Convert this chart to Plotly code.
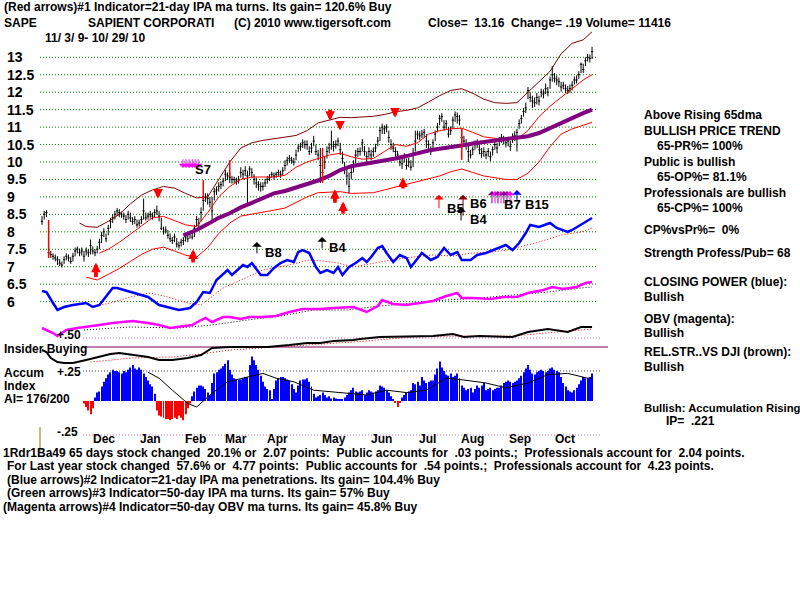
import plotly.graph_objects as go

W, H = 800, 600

# ---------------- daily bars: trading-day index 0 = 11/3/09 ... 249 = 10/29/10
closes = [
    8.30, 8.50, 8.55, 7.40, 7.35, 7.30, 7.25, 7.20, 7.10, 7.05,
    7.20, 7.30, 7.25, 7.15, 7.30, 7.45, 7.50, 7.40, 7.45, 7.30,
    7.45, 7.40, 7.60, 7.45, 7.40, 7.50, 7.70, 7.90, 8.00, 7.80,
    8.10, 8.30, 8.40, 8.50, 8.60, 8.55, 8.50, 8.45, 8.35, 8.50,
    8.40, 8.30, 8.35, 8.20, 8.25, 8.35, 8.60, 8.40, 8.45, 8.50,
    8.45, 8.55, 8.60, 8.45, 8.10, 8.00, 8.05, 7.90, 7.80, 7.75,
    7.85, 7.65, 7.60, 7.70, 7.75, 7.85, 7.80, 7.95, 7.85, 8.10,
    8.35, 8.25, 8.55, 8.90, 9.00, 8.95, 8.85, 8.60, 9.15, 9.20,
    9.30, 9.35, 9.45, 9.65, 9.60, 9.55, 9.50, 9.50, 9.45, 9.50,
    9.70, 9.65, 9.75, 9.60, 9.80, 9.70, 9.50, 9.40, 9.35, 9.30,
    9.30, 9.40, 9.50, 9.55, 9.65, 9.60, 9.65, 9.70, 9.65, 9.75,
    9.90, 10.05, 10.10, 10.05, 10.00, 10.20, 10.40, 10.45, 10.55, 10.50,
    10.50, 10.30, 10.40, 10.60, 10.30, 10.20, 9.90, 9.70, 10.00, 10.30,
    10.40, 10.50, 10.45, 10.50, 10.60, 10.35, 10.10, 9.80, 9.60, 9.30,
    9.70, 9.90, 10.20, 10.30, 10.30, 10.55, 10.30, 10.15, 10.30, 10.20,
    10.30, 10.40, 10.60, 10.90, 11.00, 10.95, 11.00, 10.70, 10.50, 10.40,
    10.30, 10.20, 10.00, 9.95, 10.15, 9.90, 10.00, 9.85, 10.20, 10.60,
    10.80, 10.75, 10.80, 10.85, 10.60, 10.50, 10.30, 10.55, 10.80, 11.00,
    11.25, 11.30, 11.00, 11.10, 10.80, 10.90, 11.20, 11.35, 11.30, 11.20,
    10.70, 10.60, 10.50, 10.30, 10.20, 10.35, 10.50, 10.55, 10.35, 10.25,
    10.30, 10.20, 10.30, 10.15, 10.35, 10.50, 10.40, 10.60, 10.70, 10.65,
    10.55, 10.60, 10.45, 10.70, 10.75, 10.85, 11.10, 11.25, 11.45, 11.55,
    12.05, 11.85, 11.75, 11.70, 11.85, 11.75, 12.00, 11.95, 12.10, 12.00,
    12.35, 12.50, 12.40, 12.35, 12.30, 12.15, 12.20, 12.10, 12.05, 12.10,
    12.20, 12.35, 12.35, 12.50, 12.80, 12.65, 12.90, 13.00, 12.97, 13.16,
]
highs = [
    8.45, 8.60, 8.62, 7.55, 7.45, 7.38, 7.35, 7.30, 7.22, 7.15,
    7.30, 7.38, 7.35, 7.28, 7.40, 7.55, 7.58, 7.52, 7.55, 7.45,
    7.55, 7.50, 7.78, 7.58, 7.50, 7.60, 7.80, 8.00, 8.10, 7.95,
    8.20, 8.40, 8.50, 8.60, 8.68, 8.65, 8.58, 8.55, 8.48, 8.60,
    8.55, 8.42, 8.45, 8.35, 8.35, 8.45, 8.95, 8.55, 8.55, 8.60,
    8.55, 8.65, 8.75, 8.60, 8.40, 8.15, 8.15, 8.05, 7.95, 7.85,
    7.95, 7.82, 7.72, 7.80, 7.85, 7.95, 7.92, 8.00, 7.98, 8.20,
    8.45, 8.40, 8.70, 9.00, 9.10, 9.10, 9.00, 9.00, 9.25, 9.30,
    9.42, 9.45, 9.55, 9.78, 9.70, 9.70, 9.60, 9.58, 9.55, 9.60,
    9.85, 9.78, 9.88, 9.75, 9.88, 9.82, 9.65, 9.55, 9.45, 9.42,
    9.42, 9.52, 9.60, 9.65, 9.72, 9.70, 9.72, 9.78, 9.75, 9.85,
    10.05, 10.15, 10.20, 10.15, 10.12, 10.35, 10.52, 10.55, 10.65, 10.62,
    10.62, 10.45, 10.55, 10.75, 10.50, 10.35, 10.40, 9.95, 10.15, 10.45,
    10.55, 10.90, 10.60, 10.62, 10.70, 10.55, 10.30, 10.00, 9.80, 9.70,
    9.85, 10.05, 10.35, 10.40, 10.42, 10.65, 10.45, 10.30, 10.42, 10.35,
    10.42, 10.52, 10.72, 11.00, 11.10, 11.05, 11.08, 10.90, 10.65, 10.55,
    10.42, 10.32, 10.15, 10.10, 10.25, 10.10, 10.12, 10.05, 10.40, 10.90,
    10.90, 10.88, 10.92, 10.95, 10.80, 10.62, 10.45, 10.65, 10.90, 11.12,
    11.35, 11.40, 11.20, 11.20, 11.00, 11.02, 11.30, 11.45, 11.42, 11.35,
    10.95, 10.75, 10.65, 10.55, 10.35, 10.45, 10.62, 10.65, 10.50, 10.40,
    10.42, 10.32, 10.40, 10.30, 10.45, 10.60, 10.55, 10.72, 10.80, 10.75,
    10.68, 10.72, 10.60, 10.82, 10.88, 10.95, 11.22, 11.35, 11.55, 11.70,
    12.15, 12.00, 11.90, 11.85, 11.98, 11.90, 12.10, 12.08, 12.25, 12.15,
    12.45, 12.75, 12.55, 12.48, 12.42, 12.30, 12.30, 12.22, 12.18, 12.22,
    12.32, 12.45, 12.48, 12.60, 12.85, 12.82, 13.00, 13.10, 13.08, 13.30,
]
lows = [
    8.20, 8.35, 8.42, 7.30, 7.25, 7.20, 7.15, 7.05, 7.02, 6.98,
    7.08, 7.18, 7.15, 7.08, 7.15, 7.30, 7.38, 7.30, 7.32, 7.15,
    7.32, 7.28, 7.35, 7.35, 7.30, 7.38, 7.50, 7.68, 7.85, 7.70,
    7.90, 8.10, 8.25, 8.35, 8.45, 8.42, 8.40, 8.35, 8.25, 8.35,
    8.28, 8.20, 8.22, 8.12, 8.15, 8.22, 8.35, 8.32, 8.35, 8.38,
    8.35, 8.42, 8.48, 8.30, 8.05, 7.92, 7.95, 7.80, 7.70, 7.65,
    7.70, 7.55, 7.52, 7.58, 7.62, 7.72, 7.70, 7.80, 7.78, 7.85,
    8.15, 8.10, 8.30, 8.60, 8.85, 8.78, 8.70, 8.28, 8.90, 9.05,
    9.15, 9.22, 9.30, 9.45, 9.48, 9.40, 9.38, 9.40, 9.35, 9.38,
    9.55, 9.50, 9.60, 8.80, 9.60, 9.55, 9.35, 9.25, 9.18, 9.15,
    9.18, 9.28, 9.38, 9.45, 9.55, 9.50, 9.55, 9.60, 9.55, 9.62,
    9.75, 9.90, 9.98, 9.95, 9.90, 10.05, 10.28, 10.32, 10.40, 10.38,
    10.35, 10.20, 10.25, 10.45, 10.20, 10.05, 9.40, 9.55, 9.80, 10.10,
    10.25, 10.35, 10.30, 10.38, 10.45, 10.20, 9.95, 9.65, 9.35, 9.10,
    9.50, 9.70, 9.95, 10.15, 10.18, 10.30, 10.18, 10.00, 10.12, 10.05,
    10.15, 10.28, 10.45, 10.60, 10.80, 10.80, 10.85, 10.55, 10.35, 10.28,
    10.15, 10.05, 9.88, 9.80, 9.98, 9.78, 9.85, 9.75, 9.85, 10.30,
    10.65, 10.62, 10.68, 10.70, 10.40, 10.32, 10.20, 10.40, 10.60, 10.85,
    11.05, 11.15, 10.90, 10.95, 10.70, 10.78, 10.95, 11.15, 11.10, 11.05,
    10.55, 10.45, 10.35, 10.00, 10.10, 10.20, 10.35, 10.40, 10.22, 10.12,
    10.15, 10.08, 10.15, 10.02, 10.18, 10.35, 10.25, 10.45, 10.55, 10.50,
    10.42, 10.45, 10.32, 10.55, 10.60, 10.30, 10.95, 11.10, 11.30, 11.40,
    11.80, 11.72, 11.55, 11.58, 11.65, 11.62, 11.85, 11.82, 11.95, 11.88,
    12.10, 12.30, 12.28, 12.20, 12.15, 12.02, 12.08, 11.98, 11.95, 11.98,
    12.05, 12.22, 12.25, 12.38, 12.55, 12.55, 12.75, 12.88, 12.85, 12.95,
]
days = list(range(len(closes)))

# ---------------- bands / moving averages (sampled readings)
upper_days = [17, 20, 25, 30, 35, 40, 45, 50, 55, 60, 65, 70, 75, 80, 85, 90, 95, 100, 105, 110,
              115, 120, 125, 130, 135, 140, 145, 150, 155, 160, 165, 170, 175, 180, 185, 190, 195,
              200, 205, 210, 215, 220, 225, 230, 235, 240, 245, 249]
upper_vals = [8.25, 8.15, 8.13, 8.3, 8.5, 8.8, 9.05, 9.2, 9.3, 9.25, 9.1, 8.97, 9.0, 9.5, 10.0, 10.4,
              10.55, 10.62, 10.67, 10.72, 10.76, 10.9, 11.12, 11.2, 11.28, 11.27, 11.29, 11.31, 11.36,
              11.44, 11.48, 11.55, 11.72, 11.9, 12.05, 12.1, 11.97, 11.8, 11.7, 11.68, 11.7, 12.0,
              12.3, 12.6, 13.1, 13.4, 13.5, 13.73]
inner_days = [26, 30, 35, 40, 45, 50, 55, 60, 65, 70, 75, 80, 85, 90, 95, 100, 105, 110, 115, 120,
              125, 130, 135, 140, 145, 150, 155, 160, 165, 170, 175, 180, 185, 190, 195, 200, 205,
              210, 215, 220, 225, 230, 235, 240, 245, 249]
inner_vals = [7.39, 7.5, 7.7, 7.93, 8.15, 8.4, 8.44, 8.33, 8.2, 8.15, 8.55, 9.0, 9.3, 9.5, 9.57, 9.57,
              9.57, 9.62, 9.85, 10.0, 10.1, 10.2, 10.25, 10.15, 10.08, 10.1, 10.3, 10.5, 10.45, 10.55,
              10.8, 10.9, 10.95, 10.97, 10.85, 10.72, 10.68, 10.65, 10.65, 10.9, 11.3, 11.6, 11.85,
              12.1, 12.35, 12.5]
lower_days = [20, 25, 30, 35, 40, 45, 50, 55, 60, 65, 70, 75, 80, 85, 90, 95, 100, 105, 110, 115,
              120, 125, 130, 135, 140, 145, 150, 155, 160, 165, 170, 175, 180, 185, 190, 195, 200,
              205, 210, 215, 220, 225, 230, 235, 240, 245, 249]
lower_vals = [6.7, 6.62, 6.78, 6.95, 7.15, 7.35, 7.5, 7.56, 7.45, 7.33, 7.27, 7.55, 7.95, 8.25, 8.45,
              8.5, 8.55, 8.62, 8.68, 8.85, 9.0, 9.12, 9.14, 9.15, 9.1, 9.1, 9.12, 9.2, 9.28, 9.35,
              9.45, 9.53, 9.6, 9.72, 9.8, 9.7, 9.6, 9.55, 9.5, 9.5, 9.68, 10.0, 10.44, 10.8, 10.95,
              11.05, 11.14]
ma65_days = [64, 65, 70, 75, 80, 85, 90, 95, 100, 105, 110, 115, 120, 125, 130, 135, 140, 145, 150,
             155, 160, 165, 170, 175, 180, 185, 190, 195, 200, 205, 210, 215, 220, 225, 230, 235,
             240, 245, 249]
ma65_vals = [7.9, 7.92, 8.05, 8.22, 8.4, 8.53, 8.7, 8.83, 8.98, 9.1, 9.17, 9.27, 9.37, 9.47, 9.6,
             9.77, 9.88, 9.93, 9.99, 10.05, 10.1, 10.17, 10.25, 10.33, 10.38, 10.42, 10.47, 10.53,
             10.57, 10.61, 10.65, 10.69, 10.74, 10.83, 10.98, 11.1, 11.25, 11.4, 11.5]

# ---------------- Closing Power (relative units) and its MA
cp_days = [0, 2, 5, 7, 10, 14, 20, 23, 26, 29, 32, 34, 37, 41, 48, 53, 59, 62, 67, 70, 73, 76, 79,
           84, 86, 91, 93, 95, 99, 102, 105, 108, 111, 114, 116, 118, 121, 124, 126, 129, 132, 134,
           136, 139, 142, 145, 147, 149, 152, 154, 156, 159, 162, 165, 167, 170, 172, 176, 179,
           182, 185, 188, 190, 194, 197, 201, 207, 210, 213, 216, 219, 221, 225, 230, 233, 238,
           240, 245, 249]
cp_vals = [19, 18, 7, 0, 3, 5, 7, 3, 5, 13, 22, 22, 20, 18, 13, 5, 2, 0, 2, 8, 18, 17, 30, 40, 35,
           45, 43, 47, 35, 35, 42, 47, 50, 48, 58, 60, 57, 43, 37, 40, 37, 43, 35, 43, 47, 52, 48,
           53, 62, 64, 57, 48, 55, 52, 43, 52, 57, 50, 53, 62, 55, 58, 50, 50, 55, 57, 62, 65, 60,
           67, 77, 85, 83, 87, 82, 78, 80, 87, 92]
cpma_days = [22, 31, 40, 49, 57, 66, 72, 82, 93, 100, 112, 121, 127, 134, 141, 150, 158, 168, 177,
             186, 195, 203, 211, 216, 225, 235, 244, 249]
cpma_vals = [3, 7, 13, 17, 13, 7, 5, 22, 33, 40, 45, 50, 49, 47, 43, 47, 50, 53, 55, 54, 57, 58, 60,
             63, 68, 75, 78, 82]

# ---------------- OBV (relative units) and its MA
obv_days = [0, 2, 5, 7, 9, 11, 16, 20, 26, 32, 38, 41, 48, 53, 58, 62, 68, 72, 74, 77, 82, 85, 90,
            94, 100, 106, 112, 118, 126, 132, 141, 147, 152, 154, 159, 165, 171, 177, 183, 188,
            190, 195, 203, 209, 215, 220, 227, 231, 236, 242, 246, 249]
obv_vals = [7, 5, 2, -1, 2, 5, 7, 8, 10, 12, 13, 14, 12, 10, 7, 8, 10, 15, 17, 13, 18, 18, 16, 18,
            18, 19, 23, 26, 26, 27, 28, 23, 29, 35, 31, 30, 32, 34, 39, 42, 37, 37, 36, 38, 38, 42,
            45, 48, 46, 48, 52, 53]
obvma_days = [19, 40, 62, 77, 93, 108, 123, 138, 153, 168, 183, 198, 213, 229, 244, 249]
obvma_vals = [5, 8, 7, 10, 15, 19, 25, 25, 29, 32, 35, 37, 40, 43, 47, 48]

# ---------------- Relative strength vs DJI (relative units) and its MA
rs_days = [0, 2, 4, 7, 10, 14, 20, 26, 31, 35, 41, 48, 53, 59, 66, 72, 77, 85, 93, 102, 112, 120,
           126, 132, 141, 144, 153, 168, 177, 186, 191, 198, 213, 220, 229, 238, 244, 249]
rs_vals = [15, 13, 7, 3, 2, 2, 5, 8, 11, 12, 10, 8, 5, 5, 7, 10, 17, 18, 18, 18, 20, 22, 22, 24,
           25, 26, 28, 29, 29, 31, 28, 29, 28, 33, 36, 33, 38, 38]
rsma_days = [22, 41, 59, 72, 85, 99, 117, 141, 168, 191, 213, 229, 249]
rsma_vals = [3, 7, 8, 11, 15, 17, 19, 23, 28, 29, 29, 32, 36]

# ---------------- Accumulation Index (daily, from day 19) and its MA
ai_vals = [
    -0.02, -0.05, -0.08, -0.11, -0.06, 0.03, 0.07, 0.08, 0.12, 0.16,
    0.19, 0.22, 0.24, 0.26, 0.25, 0.25, 0.24, 0.23, 0.25, 0.24,
    0.26, 0.28, 0.30, 0.27, 0.26, 0.28, 0.26, 0.23, 0.20, 0.17,
    0.14, 0.12, 0.06, -0.08, -0.12, -0.13, -0.14, -0.15, -0.15, -0.16,
    -0.15, -0.14, -0.15, -0.12, -0.14, -0.16, -0.11, -0.06, -0.02, 0.04,
    0.08, 0.11, 0.13, 0.13, 0.12, 0.10, 0.07, 0.05, 0.15, 0.23,
    0.24, 0.26, 0.27, 0.29, 0.31, 0.34, 0.26, 0.22, 0.19, 0.18,
    0.18, 0.18, 0.19, 0.20, 0.20, 0.30, 0.37, 0.34, 0.30, 0.26,
    0.21, 0.16, 0.12, 0.10, 0.09, 0.01, 0.10, 0.17, 0.19, 0.20,
    0.20, 0.19, 0.18, 0.17, 0.14, 0.10, 0.07, 0.13, 0.17, 0.18,
    0.18, 0.19, 0.16, 0.12, 0.06, 0.03, 0.04, 0.05, 0.07, 0.05,
    0.03, 0.04, 0.02, 0.03, 0.02, 0.01, 0.01, 0.01, 0.03, 0.05,
    0.07, 0.09, 0.11, 0.08, 0.07, 0.08, 0.09, 0.05, 0.07, 0.09,
    0.08, 0.07, 0.08, 0.09, 0.13, 0.12, 0.11, 0.09, 0.07, 0.04,
    0.01, -0.01, -0.05, -0.01, 0.03, 0.05, 0.07, 0.08, 0.09, 0.15,
    0.14, 0.16, 0.13, 0.20, 0.17, 0.15, 0.16, 0.17, 0.17, 0.22,
    0.27, 0.33, 0.28, 0.25, 0.22, 0.21, 0.23, 0.20, 0.21, 0.23,
    0.19, 0.13, 0.11, 0.09, 0.10, 0.11, 0.07, 0.10, 0.13, 0.11,
    0.13, 0.15, 0.09, 0.10, 0.11, 0.09, 0.10, 0.11, 0.11, 0.13,
    0.15, 0.16, 0.17, 0.16, 0.15, 0.16, 0.17, 0.19, 0.21, 0.24,
    0.27, 0.30, 0.26, 0.23, 0.22, 0.24, 0.25, 0.26, 0.25, 0.24,
    0.25, 0.27, 0.28, 0.26, 0.25, 0.24, 0.20, 0.15, 0.12, 0.09,
    0.08, 0.07, 0.09, 0.11, 0.14, 0.17, 0.20, 0.19, 0.19, 0.20,
    0.23,
]
ai_first_day = 19
ai_days = list(range(ai_first_day, ai_first_day + len(ai_vals)))
aima_days = [48, 53, 59, 66, 70, 76, 84, 93, 100, 106, 114, 123, 134, 147, 156, 165, 174, 183, 191,
             201, 210, 220, 229, 238, 247, 249]
aima_vals = [0.24, 0.19, 0.09, -0.02, -0.05, 0.05, 0.16, 0.2, 0.23, 0.19, 0.16, 0.09, 0.07, 0.05,
             0.09, 0.07, 0.09, 0.19, 0.175, 0.15, 0.11, 0.15, 0.22, 0.23, 0.19, 0.19]

# ---------------- axis labels
price_ticks = [13, 12.5, 12, 11.5, 11, 10.5, 10, 9.5, 9, 8.5, 8, 7.5, 7, 6.5, 6]
price_labels = ["13", "12.5", "12", "11.5", "11", "10.5", "10", "9.5", "9", "8.5", "8", "7.5", "7", "6.5", "6"]
month_labels = ["Dec", "Jan", "Feb", "Mar", "Apr", "May", "Jun", "Jul", "Aug", "Sep", "Oct"]
month_pos = [28.1, 49.3, 69.7, 87.8, 106.4, 132.2, 153.5, 174.3, 194.7, 216.4, 236.8]

# ---------------- signals
red_arrow_days = [24.4, 68.4, 52.5, 130.4, 134.9, 132.6, 136.3, 159.8, 163.4]
red_arrow_tail = [6.70, 7.12, 9.22, 11.50, 11.16, 8.83, 8.52, 11.54, 9.24]
red_arrow_tip = [7.12, 7.50, 8.95, 11.18, 10.90, 9.22, 8.87, 11.27, 9.56]
sig_days = [3, 73, 85, 127, 190]
sig_top = [8.34, 9.48, 10.06, 10.40, 10.97]
sig_bot = [7.25, 8.91, 9.57, 9.40, 10.06]
b_days = [97.3, 126.8, 179.7, 190.6, 189.7, 215.0]
b_tail = [7.34, 7.48, 8.63, 8.42, 8.28, 8.85]
b_tip = [7.71, 7.85, 9.06, 9.06, 8.71, 9.20]
b_colors = ["black", "black", "#FF0000", "#800000", "black", "#0000FF"]
b_labels = ["B8", "B4", "B5", "B6", "B4", "B15"]
b_label_day = [100.0, 129.0, 182.4, 192.8, 192.8, 217.7]
b_label_y = [7.42, 7.56, 8.68, 8.80, 8.34, 8.79]
b7_days = [203.7, 205.1, 206.4, 207.8, 209.1, 210.5, 211.9]
b7_colors = ["#800080", "#FF00FF", "#800080", "#FF00FF", "#800080", "#800080", "#FF00FF"]
b7_tail, b7_tip = 8.77, 9.17
s7_days = [63.8, 65.2, 66.6, 68.0, 69.3, 70.7]
s7_tail, s7_tip = 10.12, 9.83

FONT = "Liberation Sans, Arial, sans-serif"

fig = go.Figure()

def line(x, y, color, width, axis="y", dash=None):
    fig.add_trace(go.Scatter(x=x, y=y, mode="lines", yaxis=axis, hoverinfo="skip",
                             line=dict(color=color, width=width, dash=dash)))

DOT = "1px,2px"
line(upper_days, upper_vals, "#800000", 1)
line(inner_days, inner_vals, "#FF0000", 1)
line(lower_days, lower_vals, "#FF0000", 1)
line(ma65_days, ma65_vals, "#800080", 4)

fig.add_trace(go.Ohlc(x=days, open=closes, high=highs, low=lows, close=closes,
                      increasing=dict(line=dict(color="black", width=1)),
                      decreasing=dict(line=dict(color="black", width=1)),
                      tickwidth=0.5, hoverinfo="skip"))

line(cpma_days, cpma_vals, "#FF0000", 1, "y2", DOT)
line(cp_days, cp_vals, "#0000FF", 2.5, "y2")
line(obvma_days, obvma_vals, "black", 1, "y3", DOT)
line(obv_days, obv_vals, "#FF00FF", 2.5, "y3")
line(rsma_days, rsma_vals, "#FF0000", 1, "y4", DOT)
line(rs_days, rs_vals, "black", 2, "y4")

fig.add_trace(go.Bar(x=ai_days, y=ai_vals, yaxis="y5", width=0.45, hoverinfo="skip",
                     marker=dict(color=["#0000FF" if v >= 0 else "#FF0000" for v in ai_vals],
                                 line=dict(width=0))))
line(aima_days, aima_vals, "black", 1, "y5")

shapes = []
for t in price_ticks:
    shapes.append(dict(type="line", xref="x", yref="y", x0=-0.9, x1=251.2, y0=t, y1=t, layer="below",
                       line=dict(color="#008000", width=1, dash=DOT)))
for d, t, b in zip(sig_days, sig_top, sig_bot):
    shapes.append(dict(type="line", xref="x", yref="y", x0=d, x1=d, y0=b, y1=t,
                       line=dict(color="#FF0000", width=1.5)))
# shafts of the red signal arrows
for d, tl, tp in zip(red_arrow_days, red_arrow_tail, red_arrow_tip):
    shapes.append(dict(type="line", xref="x", yref="y", x0=d, x1=d, y0=tl, y1=tl + (tp - tl) * 0.6,
                       line=dict(color="#FF0000", width=3.5)))

def pline(x0, y0, x1, y1, color, width=1, dash=None):
    shapes.append(dict(type="line", xref="paper", yref="paper", x0=x0 / W, x1=x1 / W,
                       y0=1 - y0 / H, y1=1 - y1 / H, layer="below",
                       line=dict(color=color, width=width, dash=dash)))

pline(83, 338, 600, 338, "#D070D0", 1, DOT)
pline(82, 347, 608, 347, "#800060", 1.2)
pline(83, 371, 600, 371, "#404040", 1, DOT)
pline(83, 435, 600, 435, "#C080C0", 1, DOT)
pline(40, 427, 40, 452, "#808000", 1)

ann = []

def ptext(px, py, s, size=12, color="black", anchor="left"):
    s = s.replace("  ", "\u00a0\u00a0")
    ann.append(dict(x=px / W, y=1 - py / H, xref="paper", yref="paper", text="<b>" + s + "</b>",
                    showarrow=False, xanchor=anchor, yanchor="middle",
                    font=dict(family=FONT, size=size, color=color)))

ptext(2, 7, "(Red arrows)#1 Indicator=21-day IPA ma turns. Its gain= 120.6% Buy")
ptext(2, 23, "SAPE")
ptext(86, 23, "SAPIENT CORPORATI")
ptext(232, 23, "(C) 2010 www.tigersoft.com")
ptext(426, 23, "Close=  13.16  Change= .19 Volume= 11416")
ptext(43, 38, "11/ 3/ 9- 10/ 29/ 10")

right = [(642, 115, "Above Rising 65dma"), (642, 131, "BULLISH PRICE TREND"),
         (655, 146, "65-PR%= 100%"), (642, 162, "Public is bullish"), (655, 177, "65-OP%= 81.1%"),
         (642, 193, "Professionals are bullish"), (655, 208, "65-CP%= 100%"),
         (642, 230, "CP%vsPr%=  0%"), (642, 253, "Strength Profess/Pub= 68"),
         (642, 282, "CLOSING POWER (blue):"), (642, 297, "Bullish"), (642, 319, "OBV (magenta):"),
         (642, 333, "Bullish"), (642, 352, "REL.STR..VS DJI (brown):"), (642, 367, "Bullish")]
for px, py, s in right:
    ptext(px, py, s)
ptext(642, 408, "Bullish: Accumulation Rising", size=11.3)
ptext(664, 421, "IP=  .221")

bottom = [(1, 453, "1Rdr1Ba49 65 days stock changed  20.1% or  2.07 points:  Public accounts for  .03 points.;  Professionals account for  2.04 points."),
          (5, 466, "For Last year stock changed  57.6% or  4.77 points:  Public accounts for  .54 points.;  Professionals account for  4.23 points."),
          (5, 480, "(Blue arrows)#2 Indicator=21-day IPA ma penetrations. Its gain= 104.4% Buy"),
          (5, 493, "(Green arrows)#3 Indicator=50-day IPA ma turns. Its gain= 57% Buy"),
          (1, 507, "(Magenta arrows)#4 Indicator=50-day OBV ma turns. Its gain= 45.8% Buy")]
for px, py, s in bottom:
    ptext(px, py, s)

ptext(2, 349, "Insider Buying")
ptext(2, 373, "Accum")
ptext(2, 386, "Index")
ptext(2, 399, "AI= 176/200")
ptext(55, 335, "+.50")
ptext(55, 372, "+.25")
ptext(55, 432, "-.25")

for t, lab in zip(price_ticks, price_labels):
    ann.append(dict(x=5 / W, y=t, xref="paper", yref="y", text="<b>" + lab + "</b>", showarrow=False,
                    xanchor="left", yanchor="middle", font=dict(family=FONT, size=14, color="black")))
for p, lab in zip(month_pos, month_labels):
    ann.append(dict(x=p, y=1 - 439 / H, xref="x", yref="paper", text="<b>" + lab + "</b>",
                    showarrow=False, xanchor="center", yanchor="middle",
                    font=dict(family=FONT, size=12, color="black")))

def arrow(d, tail, tip, color, width, size, head=2):
    ann.append(dict(x=d, y=tip, ax=d, ay=tail, xref="x", yref="y", axref="x", ayref="y", text="",
                    showarrow=True, arrowhead=head, arrowsize=size, arrowwidth=width,
                    arrowcolor=color, standoff=0, startstandoff=0))

for d, tl, tp in zip(red_arrow_days, red_arrow_tail, red_arrow_tip):
    arrow(d, tl, tp, "#FF0000", 3.5, 0.55)
for d, tl, tp, c in zip(b_days, b_tail, b_tip, b_colors):
    arrow(d, tl, tp, c, 1, 1.6, 1)
for d, c in zip(b7_days, b7_colors):
    arrow(d, b7_tail, b7_tip, c, 1, 1.4, 1)
for d in s7_days:
    arrow(d, s7_tail, s7_tip, "#FF00FF", 1, 1.4, 1)
for lab, d, y in zip(b_labels, b_label_day, b_label_y):
    ann.append(dict(x=d, y=y, xref="x", yref="y", text="<b>" + lab + "</b>", showarrow=False,
                    xanchor="left", yanchor="middle", font=dict(family=FONT, size=13, color="black")))
ann.append(dict(x=208.2, y=8.79, xref="x", yref="y", text="<b>B7</b>", showarrow=False,
                xanchor="left", yanchor="middle", font=dict(family=FONT, size=13, color="black")))
ann.append(dict(x=68.3, y=9.79, xref="x", yref="y", text="<b>S7</b>", showarrow=False,
                xanchor="left", yanchor="middle", font=dict(family=FONT, size=13, color="black")))

hidden = dict(visible=False, fixedrange=True)
fig.update_layout(
    width=W, height=H, margin=dict(l=0, r=0, t=0, b=0),
    paper_bgcolor="white", plot_bgcolor="white", showlegend=False, hovermode=False,
    xaxis=dict(range=[-19.013, 343.14], rangeslider=dict(visible=False), **hidden),
    yaxis=dict(range=[-2.5501, 14.6418], **hidden),
    yaxis2=dict(range=[-290, 310], overlaying="y", anchor="x", **hidden),
    yaxis3=dict(range=[-265, 335], overlaying="y", anchor="x", **hidden),
    yaxis4=dict(range=[-235, 365], overlaying="y", anchor="x", **hidden),
    yaxis5=dict(range=[-199 / 120, 401 / 120], overlaying="y", anchor="x", **hidden),
    shapes=shapes, annotations=ann,
)

fig.write_html("out.html")
